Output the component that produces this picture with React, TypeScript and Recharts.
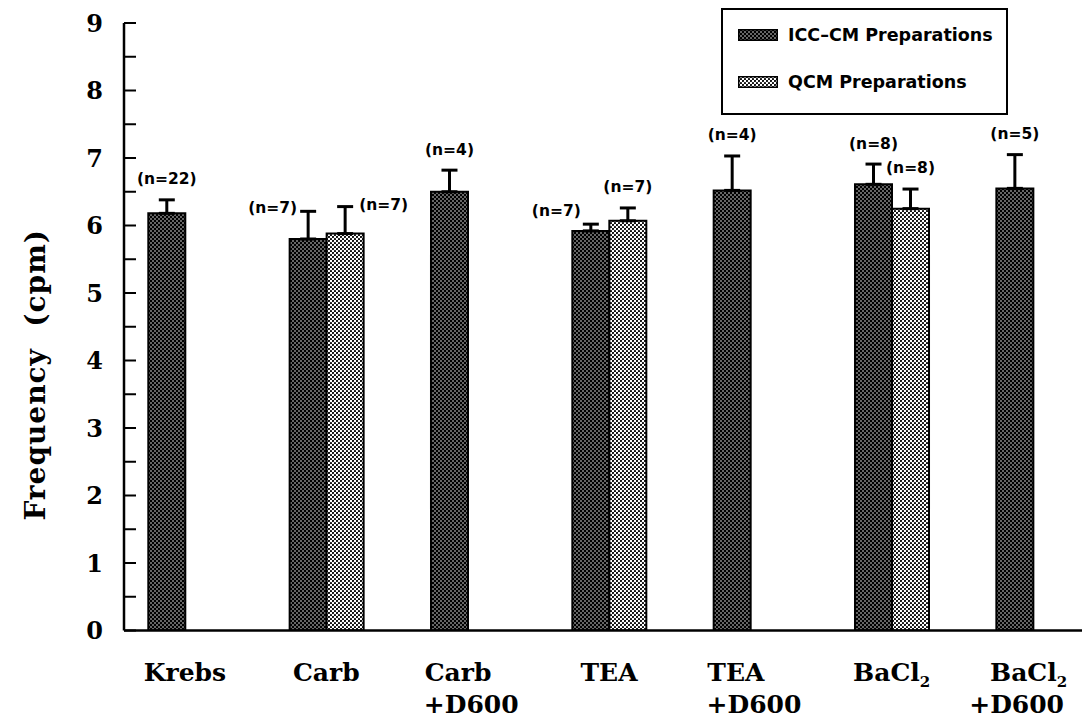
import React from 'react';
import { BarChart, Bar, XAxis, YAxis, ErrorBar, LabelList, Legend, Label } from 'recharts';

const categories = ['Krebs', 'Carb', 'Carb +D600', 'TEA', 'TEA +D600', 'BaCl2', 'BaCl2 +D600'];
const iccMeans = [6.18, 5.8, 6.5, 5.92, 6.52, 6.61, 6.55];
const iccErrors = [0.2, 0.41, 0.32, 0.1, 0.51, 0.3, 0.5];
const iccN = [22, 7, 4, 7, 4, 8, 5];
const qcmMeans = [null, 5.88, null, 6.07, null, 6.25, null];
const qcmErrors = [null, 0.4, null, 0.19, null, 0.29, null];
const qcmN = [null, 7, null, 7, null, 8, null];
const iccLabelSide = ['top', 'left', 'top', 'upleft', 'top', 'top', 'top'];
const qcmLabelSide = [null, 'right', null, 'top', null, 'top', null];
const yTicks = [0, 0.5, 1, 1.5, 2, 2.5, 3, 3.5, 4, 4.5, 5, 5.5, 6, 6.5, 7, 7.5, 8, 8.5, 9];
const seriesNames = ['ICC\u2013CM Preparations', 'QCM Preparations'];

const rows = categories.map((c, i) => ({
  name: c,
  icc: iccMeans[i],
  qcm: qcmMeans[i],
  iccE: [0, iccErrors[i]],
  qcmE: qcmErrors[i] == null ? null : [0, qcmErrors[i]],
}));

const SERIF = '"DejaVu Serif", serif';
const SANS = '"DejaVu Sans", sans-serif';
const CHART_W = 1082;
const CHART_H = 714;

const makeNLabel = (means: any[], errs: any[], ns: any[], sides: any[]) => (props: any) => {
  const idx = categories.indexOf(props.value);
  if (idx < 0 || means[idx] == null || ns[idx] == null) return null;
  const vb = props.viewBox || {};
  const x = props.x ?? vb.x;
  const y = props.y ?? vb.y;
  const width = props.width ?? vb.width;
  const height = props.height ?? vb.height;
  const cx = x + width / 2;
  const capY = y - (errs[idx] * height) / means[idx];
  const side = sides[idx];
  let tx = cx;
  let ty = capY - 21;
  let anchor: any = 'middle';
  if (side === 'left') {
    tx = cx - 11;
    ty = capY - 4;
    anchor = 'end';
  } else if (side === 'upleft') {
    tx = cx - 10;
    ty = capY - 14;
    anchor = 'end';
  } else if (side === 'right') {
    tx = cx + 14;
    ty = capY - 2;
    anchor = 'start';
  }
  return (
    <text x={tx} y={ty} dy="0.35em" textAnchor={anchor} fontFamily={SANS} fontWeight="bold" fontSize={15.5} fill="#000">
      {`(n=${ns[idx]})`}
    </text>
  );
};

const renderLine = (line: string) => {
  if (line.endsWith('2') && line.startsWith('BaCl')) {
    return (
      <>
        {line.slice(0, -1)}
        <tspan fontSize={15} dy={6}>2</tspan>
      </>
    );
  }
  return line;
};

const XTick = (props: any) => {
  const { x, y, payload } = props;
  const lines = String(payload.value).split(' ');
  if (lines.length === 1) {
    return (
      <text x={x} y={y + 50} textAnchor="middle" fontFamily={SERIF} fontWeight="bold" fontSize={25} fill="#000">
        {renderLine(lines[0])}
      </text>
    );
  }
  const secondEnd = Math.min(x - 43 + 94, CHART_W - 26);
  return (
    <g>
      <text x={x - 43} y={y + 50} textAnchor="start" fontFamily={SERIF} fontWeight="bold" fontSize={25} fill="#000">
        {renderLine(lines[0])}
      </text>
      <text x={secondEnd} y={y + 82} textAnchor="end" fontFamily={SERIF} fontWeight="bold" fontSize={25} fill="#000">
        {lines[1]}
      </text>
    </g>
  );
};

const YTick = (props: any) => {
  const { x, y, payload } = props;
  if (!Number.isInteger(payload.value)) return null;
  return (
    <text x={x} y={y} dy="0.36em" textAnchor="end" fontFamily={SERIF} fontWeight="bold" fontSize={24} fill="#000">
      {payload.value}
    </text>
  );
};

const renderYLabel = (props: any) => {
  const vb = props.viewBox || {};
  const cx = 27;
  const cy = vb.y + vb.height / 2 + 48;
  return (
    <text x={cx} y={cy} transform={`rotate(-90, ${cx}, ${cy})`} textAnchor="middle" dy="0.35em" fontFamily={SERIF} fontWeight="bold" fontSize={28} fill="#000" letterSpacing={1}>
      {'Frequency\u00a0\u00a0(cpm)'}
    </text>
  );
};

const renderLegend = (props: any) => {
  const payload = props.payload || [];
  return (
    <div style={{ position: 'relative', width: 287, height: 107, boxSizing: 'border-box', border: '2px solid #000', background: '#fff' }}>
      {payload.map((entry: any, i: number) => (
        <div key={i} style={{ position: 'absolute', left: 15, top: 17 + i * 47, height: 15, display: 'flex', alignItems: 'center' }}>
          <svg width={40} height={12} style={{ display: 'block' }}>
            <rect x={0.75} y={0.75} width={38.5} height={10.5} fill={entry.color} stroke="#000" strokeWidth={1.5} />
          </svg>
          <span style={{ marginLeft: 10, fontFamily: SANS, fontWeight: 'bold', fontSize: 17.5, color: '#000', whiteSpace: 'nowrap' }}>
            {entry.value}
          </span>
        </div>
      ))}
    </div>
  );
};

export default function App() {
  return (
    <div style={{ width: CHART_W, height: CHART_H, background: '#fff' }}>
      <BarChart width={CHART_W} height={CHART_H} data={rows} margin={{ top: 15, right: 2, bottom: 0, left: 0 }} barGap={0} barSize={37}>
        <defs>
          <pattern id="iccPat" width={4} height={4} patternUnits="userSpaceOnUse">
            <rect width={4} height={4} fill="#000" />
            <circle cx={1} cy={1} r={0.75} fill="#fff" />
            <circle cx={3} cy={3} r={0.75} fill="#fff" />
          </pattern>
          <pattern id="qcmPat" width={4} height={4} patternUnits="userSpaceOnUse">
            <rect width={4} height={4} fill="#fff" />
            <circle cx={1} cy={1} r={1.1} fill="#000" />
            <circle cx={3} cy={3} r={1.1} fill="#000" />
          </pattern>
        </defs>
        <XAxis
          dataKey="name"
          interval={0}
          height={91.5}
          tickLine={false}
          tickSize={0}
          tickMargin={0}
          axisLine={{ stroke: '#000', strokeWidth: 2.5 }}
          padding={{ left: -9.7, right: -15.7 }}
          tick={<XTick />}
        />
        <YAxis
          width={116}
          domain={[0, 9]}
          ticks={yTicks}
          interval={0}
          allowDataOverflow
          tickSize={-12}
          tickMargin={33}
          tickLine={{ stroke: '#000', strokeWidth: 2 }}
          axisLine={{ stroke: '#000', strokeWidth: 2.5 }}
          tick={<YTick />}
        >
          <Label content={renderYLabel} />
        </YAxis>
        <Legend
          layout="horizontal"
          verticalAlign="middle"
          align="center"
          content={renderLegend}
          wrapperStyle={{ top: 0, left: 713, width: 287, height: 107 }}
        />
        <Bar dataKey="icc" name={seriesNames[0]} fill="url(#iccPat)" stroke="#000" strokeWidth={2} isAnimationActive={false}>
          <ErrorBar dataKey="iccE" width={8} stroke="#000" strokeWidth={3} direction="y" />
          <LabelList dataKey="name" content={makeNLabel(iccMeans, iccErrors, iccN, iccLabelSide)} />
        </Bar>
        <Bar dataKey="qcm" name={seriesNames[1]} fill="url(#qcmPat)" stroke="#000" strokeWidth={2} isAnimationActive={false}>
          <ErrorBar dataKey="qcmE" width={8} stroke="#000" strokeWidth={3} direction="y" />
          <LabelList dataKey="name" content={makeNLabel(qcmMeans, qcmErrors, qcmN, qcmLabelSide)} />
        </Bar>
      </BarChart>
    </div>
  );
}
